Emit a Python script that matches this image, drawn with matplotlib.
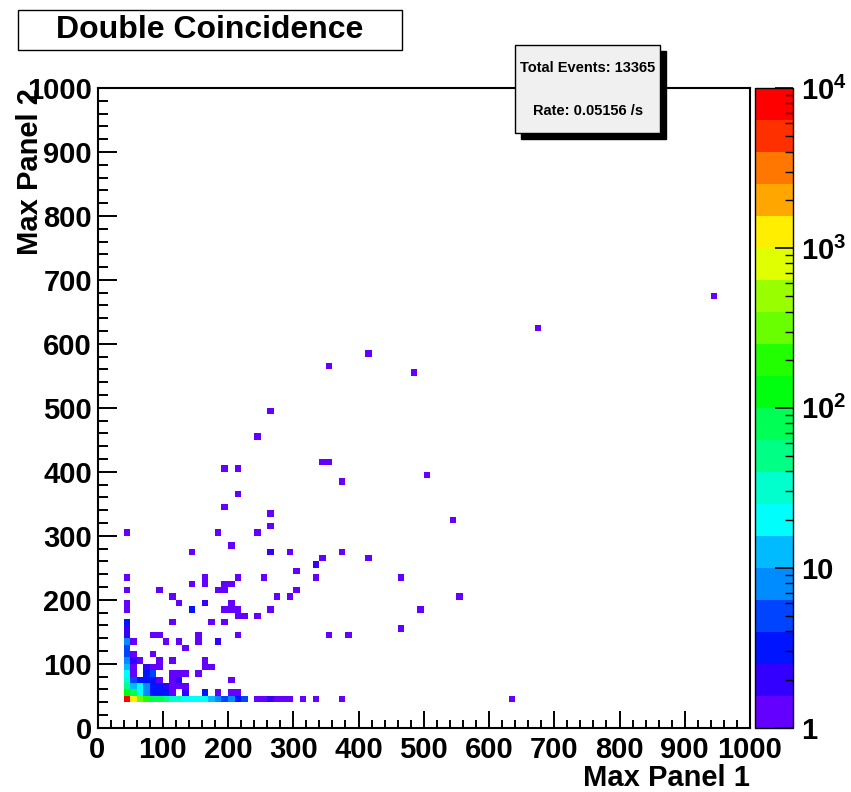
import colorsys
import numpy as np
import matplotlib
matplotlib.use('Agg')
import matplotlib.pyplot as plt
from matplotlib.colors import ListedColormap, LogNorm
from matplotlib.patches import Rectangle
from matplotlib.ticker import MultipleLocator, LogLocator, NullFormatter

plt.rcParams['font.family'] = ['Liberation Sans', 'DejaVu Sans']
plt.rcParams['font.weight'] = 'bold'
plt.rcParams['mathtext.fontset'] = 'custom'
plt.rcParams['mathtext.rm'] = 'Liberation Sans:bold'
plt.rcParams['mathtext.it'] = 'Liberation Sans:bold'
plt.rcParams['mathtext.bf'] = 'Liberation Sans:bold'

# bottom row of the histogram (Max Panel 2 = 40..50)
row_p1 = [45, 55, 65, 75, 85, 95, 105, 115, 125, 135, 145, 155, 165, 175, 185,
          195, 205, 215, 225, 245, 255, 265, 275, 285, 295, 315, 335, 375, 635]
row_n = [9900, 1500, 380, 240, 95, 85, 55, 32, 28, 20, 18, 17, 16, 12, 7,
         6, 7, 3, 5, 1, 1, 2, 1, 1, 1, 1, 1, 1, 1]

# first column (Max Panel 1 = 40..50), above the bottom row
col_p2 = [55, 65, 75, 85, 95, 105, 115, 125, 135, 145, 155, 165, 185, 195, 215, 235, 305]
col_n = [120, 50, 30, 20, 12, 8, 5, 5, 8, 2, 2, 3, 1, 1, 1, 1, 1]

# everything else: (Max Panel 1, Max Panel 2, entries)
cell_p1 = [55, 65, 75, 85, 95, 105, 115, 135, 165, 185, 205, 215,
           55, 65, 75, 85, 95, 105, 115, 125, 135,
           55, 65, 75, 85, 95, 115, 125, 205,
           55, 75, 85, 115, 125, 135, 155,
           55, 75, 85, 95, 165, 175,
           55, 65, 95, 115, 165,
           55, 85,
           135,
           55, 105, 125, 155, 185,
           85, 95, 155, 215, 355, 385,
           465,
           115, 175, 195,
           215, 225, 245,
           145, 195, 205, 215, 265, 495,
           125, 165, 205,
           115, 275, 295, 555,
           95, 185, 195, 305,
           145, 165, 195, 205,
           165, 215, 255, 335, 465,
           305, 335, 345, 415,
           145, 265, 295, 375,
           205, 185, 245, 265, 545, 265, 195, 215, 375, 505,
           195, 215, 345, 355, 245, 265, 485, 355, 415, 675, 945]
cell_p2 = [55, 55, 55, 55, 55, 55, 55, 55, 55, 55, 55, 55,
           65, 65, 65, 65, 65, 65, 65, 65, 65,
           75, 75, 75, 75, 75, 75, 75, 75,
           85, 85, 85, 85, 85, 85, 85,
           95, 95, 95, 95, 95, 95,
           105, 105, 105, 105, 105,
           115, 115,
           125,
           135, 135, 135, 135, 135,
           145, 145, 145, 145, 145, 145,
           155,
           165, 165, 165,
           175, 175, 175,
           185, 185, 185, 185, 185, 185,
           195, 195, 195,
           205, 205, 205, 205,
           215, 215, 215, 215,
           225, 225, 225, 225,
           235, 235, 235, 235, 235,
           245, 255, 265, 265,
           275, 275, 275, 275,
           285, 305, 305, 315, 325, 335, 345, 365, 385, 395,
           405, 405, 415, 415, 455, 495, 555, 565, 585, 625, 675]
cell_n = [70, 20, 8, 3, 3, 3, 1, 2, 3, 1, 1, 1,
          12, 18, 8, 3, 3, 2, 1, 1, 1,
          5, 3, 3, 3, 1, 1, 2, 1,
          1, 3, 4, 1, 1, 1, 1,
          1, 2, 1, 1, 1, 1,
          2, 1, 1, 1, 1,
          1, 1,
          1,
          1, 1, 1, 1, 2,
          1, 1, 1, 1, 1, 1,
          1,
          1, 1, 1,
          1, 1, 1,
          3, 1, 1, 1, 1, 1,
          1, 2, 1,
          1, 1, 1, 1,
          1, 1, 1, 1,
          1, 1, 1, 1,
          1, 1, 1, 1, 1,
          1, 2, 1, 1,
          1, 2, 1, 1,
          1, 1, 1, 1, 1, 1, 1, 1, 1, 1,
          1, 1, 1, 1, 1, 1, 1, 1, 1, 1, 1]

total_events = 13365
rate = 0.05156

all_p1 = row_p1 + [45] * len(col_p2) + cell_p1
all_p2 = [45] * len(row_p1) + col_p2 + cell_p2
all_n = row_n + col_n + cell_n

edges = np.arange(0, 1001, 10)
hist, _, _ = np.histogram2d(all_p1, all_p2, bins=[edges, edges], weights=all_n)
hist = np.ma.masked_equal(hist.T, 0)

# ROOT "pretty" palette, 20 log contours
palette = [colorsys.hls_to_rgb((280 - (int((k + 0.99) * 2.5) + 1) * 5.6) / 360, 0.5, 1.0)
           for k in range(20)]
cmap = ListedColormap(palette)
norm = LogNorm(vmin=1, vmax=1e4)

W, H = 851, 792
fig = plt.figure(figsize=(W / 100, H / 100), dpi=100)
ax = fig.add_axes([97.5 / W, (H - 727.7) / H, 652.5 / W, 639.7 / H])
mesh = ax.pcolormesh(edges, edges, hist, cmap=cmap, norm=norm)

ax.set_xlim(0, 1000)
ax.set_ylim(0, 1000)
ax.xaxis.set_major_locator(MultipleLocator(100))
ax.xaxis.set_minor_locator(MultipleLocator(20))
ax.yaxis.set_major_locator(MultipleLocator(100))
ax.yaxis.set_minor_locator(MultipleLocator(20))
ax.tick_params(axis='x', which='major', direction='in', length=12, width=1.4,
               labelsize=21, pad=6, top=False)
ax.tick_params(axis='x', which='minor', direction='in', length=6, width=1.4, top=False)
ax.tick_params(axis='y', which='major', direction='in', length=14, width=1.4,
               labelsize=21, pad=4, right=False)
ax.tick_params(axis='y', which='minor', direction='in', length=7, width=1.4, right=False)
for s in ax.spines.values():
    s.set_linewidth(1.5)

ax.text(1.0, -0.079, 'Max Panel 1', transform=ax.transAxes, ha='right', va='center',
        fontsize=21, fontweight='bold')
ax.text(-0.104, 1.0, 'Max Panel 2', transform=ax.transAxes, ha='center', va='top',
        rotation=90, fontsize=21, fontweight='bold')

cax = fig.add_axes([755 / W, (H - 727.7) / H, 38 / W, 639.7 / H])
cb = fig.colorbar(mesh, cax=cax)
cb.outline.set_linewidth(1.0)
cb.set_ticks([1, 10, 100, 1000, 10000],
             labels=['1', '10', '$10^{2}$', '$10^{3}$', '$10^{4}$'])
cax.yaxis.set_minor_locator(LogLocator(base=10, subs=np.arange(2, 10)))
cax.yaxis.set_minor_formatter(NullFormatter())
cax.tick_params(which='major', direction='in', length=13, width=1.2, labelsize=21, pad=6)
cax.tick_params(which='minor', direction='in', length=6, width=1.0)

# title box
fig.add_artist(Rectangle((18 / W, 1 - 50 / H), 384 / W, 40 / H, transform=fig.transFigure,
                         facecolor='white', edgecolor='black', linewidth=1.0))
fig.text(210 / W, 1 - 30 / H, 'Double Coincidence', ha='center', va='center',
         fontsize=23, fontweight='bold')

# stats box with shadow
fig.add_artist(Rectangle((521 / W, 1 - 139 / H), 145 / W, 88 / H, transform=fig.transFigure,
                         facecolor='black', edgecolor='black', linewidth=1.0, zorder=5))
fig.add_artist(Rectangle((515 / W, 1 - 133 / H), 145 / W, 88 / H, transform=fig.transFigure,
                         facecolor='#f0f0f0', edgecolor='black', linewidth=1.0, zorder=6))
fig.text(588 / W, 1 - 68 / H, 'Total Events: {}'.format(total_events), ha='center',
         va='center', fontsize=10.5, fontweight='bold', zorder=7)
fig.text(588 / W, 1 - 111 / H, 'Rate: {} /s'.format(rate), ha='center',
         va='center', fontsize=10.5, fontweight='bold', zorder=7)

fig.savefig('out.png', dpi=100)
